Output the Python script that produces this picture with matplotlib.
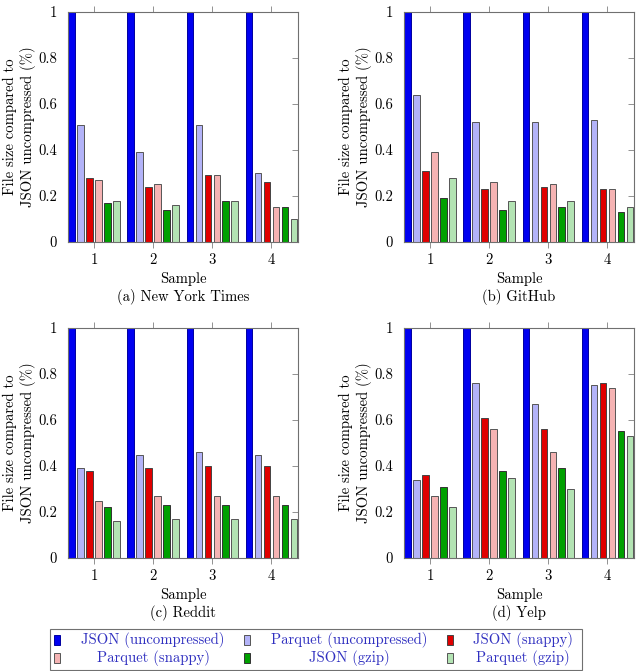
import numpy as np
import matplotlib
matplotlib.use('Agg')
import matplotlib.pyplot as plt
from matplotlib.patches import Rectangle
from matplotlib.ticker import FuncFormatter

plt.rcParams['font.family'] = 'serif'
plt.rcParams['font.serif'] = ['cmr10', 'DejaVu Serif']
plt.rcParams['mathtext.fontset'] = 'cm'
plt.rcParams['axes.formatter.use_mathtext'] = True

samples = [1, 2, 3, 4]
series = ['JSON (uncompressed)', 'Parquet (uncompressed)', 'JSON (snappy)',
          'Parquet (snappy)', 'JSON (gzip)', 'Parquet (gzip)']
captions = ['(a) New York Times', '(b) GitHub', '(c) Reddit', '(d) Yelp']

# one row per series, one column per sample
nyt = [[1, 1, 1, 1],
       [0.51, 0.39, 0.51, 0.30],
       [0.28, 0.24, 0.29, 0.26],
       [0.27, 0.25, 0.29, 0.15],
       [0.17, 0.14, 0.18, 0.15],
       [0.18, 0.16, 0.18, 0.10]]
github = [[1, 1, 1, 1],
          [0.64, 0.52, 0.52, 0.53],
          [0.31, 0.23, 0.24, 0.23],
          [0.39, 0.26, 0.25, 0.23],
          [0.19, 0.14, 0.15, 0.13],
          [0.28, 0.18, 0.18, 0.15]]
reddit = [[1, 1, 1, 1],
          [0.39, 0.45, 0.46, 0.45],
          [0.38, 0.39, 0.40, 0.40],
          [0.25, 0.27, 0.27, 0.27],
          [0.22, 0.23, 0.23, 0.23],
          [0.16, 0.17, 0.17, 0.17]]
yelp = [[1, 1, 1, 1],
        [0.34, 0.76, 0.67, 0.75],
        [0.36, 0.61, 0.56, 0.76],
        [0.27, 0.56, 0.46, 0.74],
        [0.31, 0.38, 0.39, 0.55],
        [0.22, 0.35, 0.30, 0.53]]
datasets = [nyt, github, reddit, yelp]

fills = ['#0000f0', '#b3b3f8', '#e00000', '#f5b3b3', '#00a000', '#b3e3b3']
edges = ['#0000a0', '#555555', '#444444', '#555555', '#333333', '#555555']
text_blue = '#3030c0'
fs = 10.6

fig = plt.figure(figsize=(6.39, 6.71), dpi=100)
W, H = 639.0, 671.0
# panel boxes in pixels: left, top
boxes = [(68, 12), (404, 12), (68, 328), (404, 328)]
aw, ah = 230, 230

step = 0.152
bw = 0.11
x = np.array(samples, dtype=float)

for i, data in enumerate(datasets):
    left, top = boxes[i]
    ax = fig.add_axes([left / W, (H - top - ah) / H, aw / W, ah / H])
    for k in range(len(series)):
        ax.bar(x + (k - 2.5) * step, data[k], width=bw, color=fills[k],
               edgecolor=edges[k], linewidth=0.7, zorder=2)
    ax.set_xlim(0.56, 4.45)
    ax.set_ylim(0, 1)
    ax.set_xticks(samples)
    ax.set_yticks([0, 0.2, 0.4, 0.6, 0.8, 1])
    ax.yaxis.set_major_formatter(FuncFormatter(lambda v, p: '%g' % v))
    for s in ax.spines.values():
        s.set_color('#707070')
        s.set_linewidth(0.8)
    ax.tick_params(axis='x', direction='out', top=True, length=4, width=0.6,
                   color='#808080', labelsize=fs, pad=3)
    ax.tick_params(axis='y', direction='in', right=True, length=4, width=0.6,
                   color='#808080', labelsize=fs, pad=8)
    ax.set_ylabel('File size compared to\nJSON uncompressed (%)', fontsize=fs,
                  linespacing=1.25)
    ax.yaxis.set_label_coords(-0.14, 0.5)
    ax.set_xlabel('Sample', fontsize=fs, va='top')
    ax.xaxis.set_label_coords(0.5, -0.132)
    ax.text(0.5, -0.205, captions[i], transform=ax.transAxes, ha='center',
            va='top', fontsize=fs)

# legend box at the bottom, three columns
fig.add_artist(Rectangle((50 / W, 1 - 670 / H), 532 / W, 41 / H,
                         transform=fig.transFigure, fill=False,
                         edgecolor='#707070', linewidth=0.8))
col_patch = [54, 244, 447]
col_text = [153, 349, 523]
rows = [640, 658]
for k, name in enumerate(series):
    r, c = divmod(k, 3)
    yc = rows[r]
    fig.add_artist(Rectangle((col_patch[c] / W, 1 - (yc + 5) / H), 6 / W, 10 / H,
                             transform=fig.transFigure, facecolor=fills[k],
                             edgecolor=edges[k], linewidth=0.7))
    fig.text(col_text[c] / W, 1 - yc / H, name, ha='center', va='center',
             fontsize=fs, color=text_blue)

fig.savefig('out.png', dpi=100)
